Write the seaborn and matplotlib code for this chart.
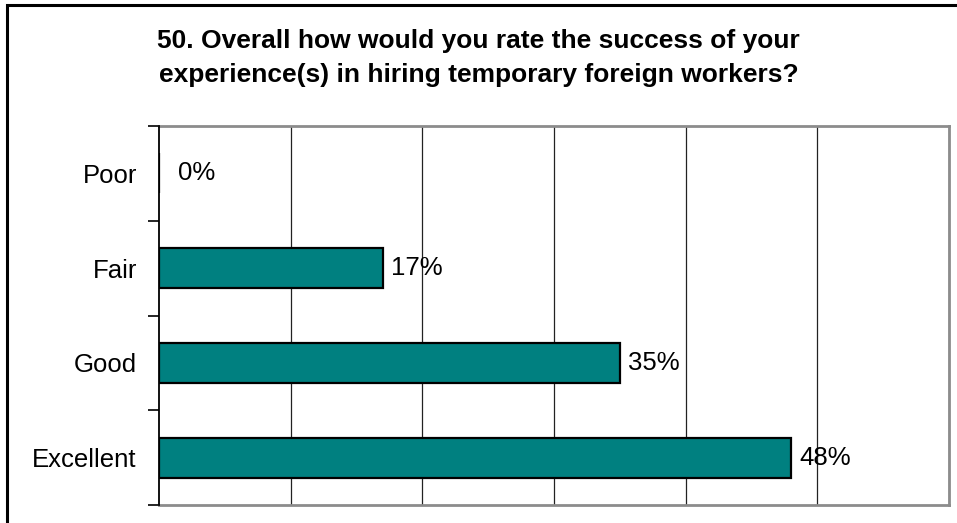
import matplotlib
matplotlib.use("Agg")
import matplotlib.pyplot as plt
from matplotlib.patches import Rectangle
from matplotlib.ticker import FixedLocator, NullFormatter
import seaborn as sns
import pandas as pd

# Survey responses (percent of respondents)
ratings = ["Poor", "Fair", "Good", "Excellent"]
shares = [0, 17, 35, 48]
title_text = ("50. Overall how would you rate the success of your\n"
              "experience(s) in hiring temporary foreign workers?")

sns.set_style("white")
plt.rcParams["font.family"] = ["Liberation Sans", "DejaVu Sans"]
plt.rcParams["text.color"] = "black"
plt.rcParams["ytick.color"] = "black"

df = pd.DataFrame({"rating": ratings, "share": shares})

fig = plt.figure(figsize=(9.57, 5.23), dpi=100)
ax = fig.add_axes([159 / 957, 1 - 505 / 523, (949 - 159) / 957, (505 - 126) / 523])

sns.barplot(data=df, x="share", y="rating", order=ratings, orient="h",
            color="#008080", edgecolor="black", linewidth=1.6, width=0.42,
            saturation=1, ax=ax)

ax.set_xlim(0, 60)
ax.set_ylim(3.5, -0.5)
ax.set_xlabel("")
ax.set_ylabel("")

# vertical gridlines every 10%
ax.xaxis.set_major_locator(FixedLocator([10, 20, 30, 40, 50, 60]))
ax.xaxis.set_major_formatter(NullFormatter())
ax.tick_params(axis="x", length=0)
ax.grid(axis="x", color="#222222", linewidth=0.9)
ax.set_axisbelow(True)

# category labels, with tick marks on the boundaries between categories
ax.yaxis.set_minor_locator(FixedLocator([-0.5, 0.5, 1.5, 2.5, 3.5]))
ax.tick_params(axis="y", which="major", length=0, pad=16, labelsize=18.5,
               labelcolor="black")
ax.tick_params(axis="y", which="minor", length=8, width=1.2, color="black",
               direction="out", left=True)

for side in ["top", "right", "bottom"]:
    ax.spines[side].set_color("#8c8c8c")
    ax.spines[side].set_linewidth(2)
ax.spines["left"].set_color("black")
ax.spines["left"].set_linewidth(1.3)
ax.spines["left"].set_zorder(5)

# value labels
for i, v in enumerate(shares):
    off = 14 if v == 0 else 6
    ax.annotate(f"{v}%", xy=(v, i), xytext=(off, 0), textcoords="offset points",
                ha="left", va="center", fontsize=18.5, color="black")

fig.text(0.5, 1 - 58 / 523, title_text, ha="center", va="center",
         fontsize=19, fontweight="bold", linespacing=1.55, color="black")

# outer frame
fig.patches.append(Rectangle((7 / 957, -0.05), 1.1, 1 - 5 / 523 + 0.05,
                             transform=fig.transFigure, fill=False,
                             edgecolor="black", linewidth=2.2, zorder=10))

fig.savefig("out.png", dpi=100)
